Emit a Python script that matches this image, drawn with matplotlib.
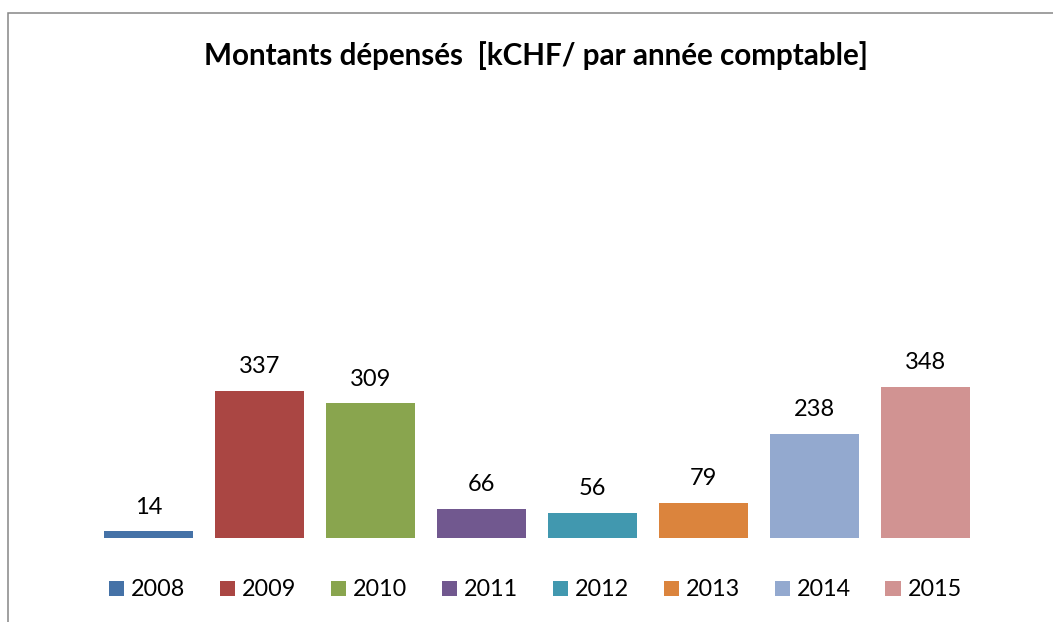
import matplotlib
matplotlib.use("Agg")
import matplotlib.pyplot as plt
from matplotlib.patches import Rectangle

years = ["2008", "2009", "2010", "2011", "2012", "2013", "2014", "2015"]
values = [14, 337, 309, 66, 56, 79, 238, 348]
colors = ["#4572A7", "#AA4643", "#89A54E", "#71588F", "#4198AF", "#DB843D", "#93A9CF", "#D19392"]
title = "Montants dépensés  [kCHF/ par année comptable]"

plt.rcParams['font.family'] = ['Lato', 'DejaVu Sans']

W, H = 1053, 622
fig = plt.figure(figsize=(W / 100, H / 100), dpi=100)
fig.patch.set_facecolor("white")

# axes placement in pixels
ax = fig.add_axes([93 / W, 84.5 / H, 888 / W, 347 / H])
ax.set_xlim(-0.5, len(years) - 0.5)
ax.set_ylim(0, 800)
ax.axis("off")

handles = []
for i, (y, v, c) in enumerate(zip(years, values, colors)):
    b = ax.bar(i, v, width=0.8, color=c, label=y)
    handles.append(b)
    ax.annotate(str(v), (i, v), xytext=(0, 10), textcoords="offset points",
                ha="center", va="bottom", fontsize=17, color="black")

fig.text(536 / W, 1 - 56 / H, title, ha="center", va="center",
         fontsize=21.3, fontweight="bold", color="black")

leg = fig.legend(handles=handles, labels=years, loc="center",
                 bbox_to_anchor=(535.5 / W, 32 / H), ncol=8, frameon=False,
                 fontsize=16.8, handlelength=0.65, handleheight=0.65,
                 handletextpad=0.3, columnspacing=1.48, borderaxespad=0)

border = Rectangle((7.5 / W, -0.1), 1.2, (H - 12.5) / H + 0.1,
                   transform=fig.transFigure, fill=False,
                   edgecolor="#868686", lw=1.1, clip_on=False)
fig.patches.append(border)

fig.savefig("out.png", dpi=100)
